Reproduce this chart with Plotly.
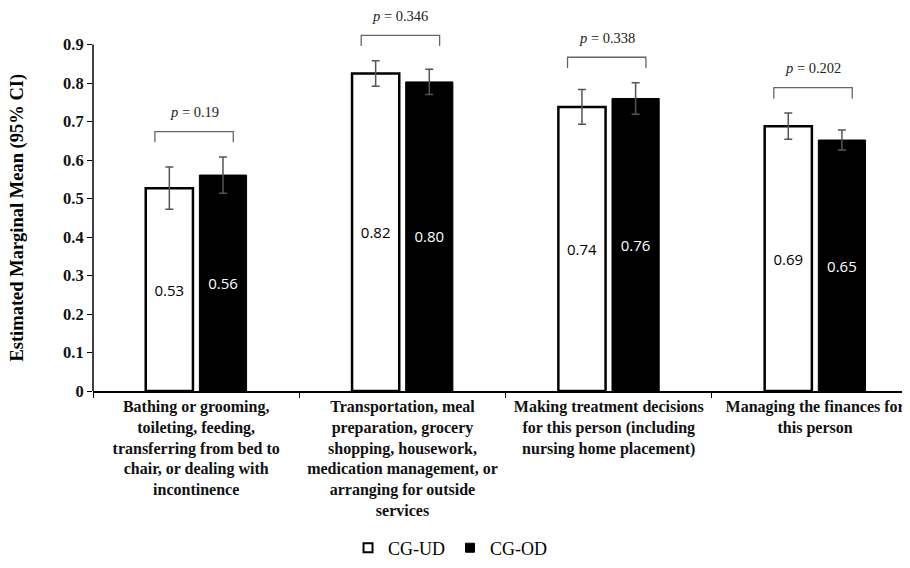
import plotly.graph_objects as go

categories = [
    "Bathing or grooming,<br>toileting, feeding,<br>transferring from bed to<br>chair, or dealing with<br>incontinence",
    "Transportation, meal<br>preparation, grocery<br>shopping, housework,<br>medication management, or<br>arranging for outside<br>services",
    "Making treatment decisions<br>for this person (including<br>nursing home placement)",
    "Managing the finances for<br>this person",
]
ud_values = [0.527, 0.825, 0.738, 0.688]
ud_errors = [0.055, 0.033, 0.045, 0.034]
ud_labels = ["0.53", "0.82", "0.74", "0.69"]
od_values = [0.561, 0.803, 0.760, 0.652]
od_errors = [0.047, 0.033, 0.041, 0.026]
od_labels = ["0.56", "0.80", "0.76", "0.65"]
p_values = ["0.19", "0.346", "0.338", "0.202"]
y_ticks = [0, 0.1, 0.2, 0.3, 0.4, 0.5, 0.6, 0.7, 0.8, 0.9]
y_tick_labels = ["0", "0.1", "0.2", "0.3", "0.4", "0.5", "0.6", "0.7", "0.8", "0.9"]

SERIF = "Liberation Serif"
SANS = "Open Sans"

fig = go.Figure()
fig.add_trace(go.Bar(
    name="CG-UD", x=categories, y=ud_values, text=ud_labels, showlegend=False,
    textposition="inside", insidetextanchor="middle",
    textfont=dict(family=SANS, size=15, color="black"),
    marker=dict(color="white", line=dict(color="black", width=2.5)),
    error_y=dict(type="data", array=ud_errors, color="#555555", thickness=1.5, width=4),
))
fig.add_trace(go.Bar(
    name="CG-OD", x=categories, y=od_values, text=od_labels, showlegend=False,
    textposition="inside", insidetextanchor="middle",
    textfont=dict(family=SANS, size=15, color="white"),
    marker=dict(color="black", line=dict(color="black", width=1)),
    error_y=dict(type="data", array=od_errors, color="#555555", thickness=1.5, width=4),
))
# legend entries (small square swatches)
fig.add_trace(go.Scatter(
    name="CG-UD", x=[None], y=[None], mode="markers",
    marker=dict(symbol="square", size=9, color="white", line=dict(color="black", width=2)),
))
fig.add_trace(go.Scatter(
    name="CG-OD", x=[None], y=[None], mode="markers",
    marker=dict(symbol="square", size=9, color="black", line=dict(color="black", width=1)),
))

# significance brackets
for i, p in enumerate(p_values):
    top_ci = max(ud_values[i] + ud_errors[i], od_values[i] + od_errors[i])
    y_end = top_ci + 0.038
    y_top = y_end + 0.028
    x0, x1 = i - 0.2, i + 0.18
    fig.add_shape(
        type="path",
        path=f"M {x0} {y_end} L {x0} {y_top} L {x1} {y_top} L {x1} {y_end}",
        xref="x", yref="y", line=dict(color="#666666", width=1.3),
    )
    fig.add_annotation(
        x=(x0 + x1) / 2, y=y_top + 0.05, xref="x", yref="y",
        text=f"<i>p</i> = {p}", showarrow=False,
        font=dict(family=SERIF, size=14.5, color="#222222"),
    )

# y axis line limited to 0..0.9
fig.add_shape(type="line", xref="paper", yref="y", x0=0, x1=0, y0=0, y1=0.9,
              line=dict(color="black", width=1.5))

fig.add_annotation(
    xref="paper", yref="y", x=-0.092, y=0.45, xanchor="center", yanchor="middle",
    text="<b>Estimated Marginal Mean (95% CI)</b>",
    textangle=-90, showarrow=False, font=dict(family=SERIF, size=18.5, color="black"),
)

fig.update_layout(
    width=902, height=560,
    margin=dict(l=85, r=0, t=0, b=177, autoexpand=False),
    paper_bgcolor="white", plot_bgcolor="white",
    barmode="group", bargap=0.48, bargroupgap=0.12,
    showlegend=True,
    legend=dict(orientation="h", x=0.437, y=-0.41, xanchor="center", yanchor="middle",
                font=dict(family=SERIF, size=18, color="black"), itemwidth=30),
    font=dict(family=SERIF, color="black"),
)
fig.update_xaxes(
    range=[-0.5, 3.46], showline=True, linecolor="black", linewidth=1.5,
    ticks="outside", tickson="boundaries", ticklen=5, tickcolor="black",
    tickfont=dict(family=SERIF, size=16, color="#111111"),
    showgrid=False, tickangle=0, automargin=False,
    ticktext=["<b>" + c + "</b>" for c in categories], tickvals=categories,
)
fig.update_yaxes(
    range=[0, 0.995], showline=False, showgrid=False, zeroline=False, automargin=False,
    tickvals=y_ticks, ticktext=["<b>" + t + "</b>" for t in y_tick_labels],
    ticks="outside", ticklen=5, tickcolor="black",
    tickfont=dict(family=SERIF, size=16.5, color="#111111"),
)

fig.write_html("out.html")
